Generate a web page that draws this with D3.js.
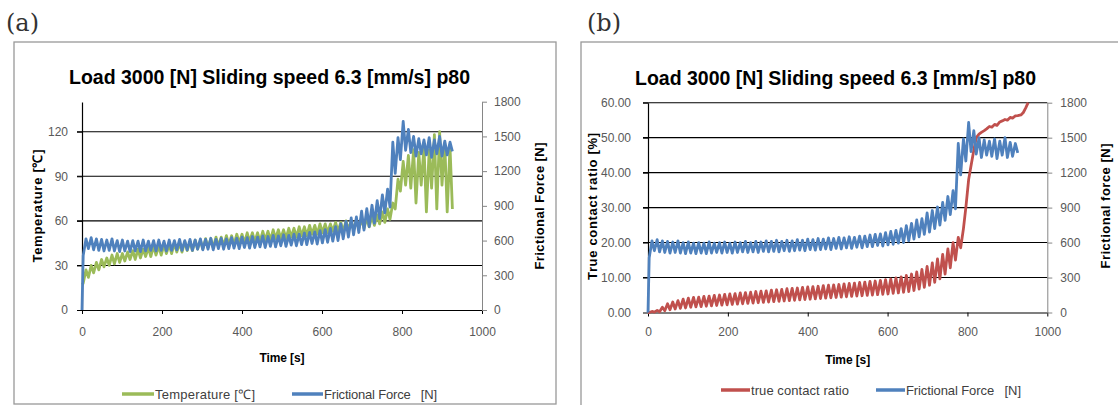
<!DOCTYPE html>
<html>
<head>
<meta charset="utf-8">
<script src="https://cdn.jsdelivr.net/npm/d3@7"></script>
<style>
  body { margin: 0; background: #fff; }
  svg { display: block; }
  .tick text { font-family: "Liberation Sans", Arial, sans-serif; font-size: 12px; fill: #595959; }
  .title { font-family: "Liberation Sans", Arial, sans-serif; font-size: 19.5px; font-weight: bold; fill: #000; }
  .axis-title { font-family: "Liberation Sans", Arial, sans-serif; font-weight: bold; fill: #000; }
  .legend-text { font-family: "Liberation Sans", Arial, sans-serif; font-size: 13px; fill: #404040; white-space: pre; }
  .tag { font-family: "DejaVu Serif", "Liberation Serif", serif; font-size: 24px; fill: #333; }
</style>
</head>
<body>
<div id="chart"></div>
<script>
// time [s], sampled at the turning points of each stroke
const time = [0,
  3, 10, 16, 23, 29, 36, 42, 49, 55, 62, 68, 75, 81, 88, 94, 101, 107, 114, 120, 127,
  133, 140, 146, 153, 159, 166, 172, 179, 185, 192, 198, 205, 211, 218, 224, 231, 237, 244, 250, 257,
  263, 270, 276, 283, 289, 296, 302, 309, 315, 322, 328, 335, 341, 348, 354, 361, 367, 374, 380, 387,
  393, 400, 406, 413, 419, 426, 432, 439, 445, 452, 458, 465, 471, 478, 484, 491, 497, 504, 510, 517,
  523, 530, 536, 543, 549, 556, 562, 569, 575, 582, 588, 595, 601, 608, 614, 621, 627, 634, 640, 647,
  653, 660, 666, 673, 679, 686, 692, 699, 705, 712, 718, 725, 731, 738, 744, 751, 757, 764, 770, 777,
  783, 790, 796, 803, 809, 816, 822, 829, 835, 842, 848, 855, 861, 868, 874, 881, 887, 894, 900, 907,
  913, 920, 926];

// temperature [°C]
const temperature = [17,
  18, 27, 22, 30, 25, 32, 27, 34, 29, 35, 30, 37, 31, 38, 32, 38, 33, 39, 34, 40,
  34, 41, 35, 41, 36, 42, 36, 43, 37, 43, 37, 44, 38, 44, 38, 45, 39, 45, 39, 46,
  40, 46, 40, 47, 41, 47, 41, 48, 42, 48, 42, 49, 43, 49, 43, 50, 44, 50, 44, 51,
  45, 51, 45, 52, 46, 52, 46, 52, 46, 53, 47, 53, 47, 54, 48, 54, 48, 54, 48, 55,
  49, 55, 49, 56, 50, 56, 50, 57, 51, 57, 51, 58, 52, 58, 52, 58, 53, 59, 53, 59,
  53, 60, 54, 60, 54, 60, 55, 61, 55, 62, 56, 63, 57, 64, 58, 66, 59, 68, 61, 72,
  68, 88, 80, 100, 84, 104, 82, 108, 72, 106, 84, 110, 66, 108, 82, 118, 68, 120, 84, 112,
  66, 110, 68];

// frictional force [N]
const force = [0,
  470, 615, 530, 625, 520, 615, 515, 610, 510, 605, 515, 615, 510, 600, 505, 605, 510, 595, 505, 600,
  510, 595, 505, 605, 510, 595, 515, 600, 510, 605, 515, 595, 510, 605, 515, 600, 520, 610, 515, 600,
  520, 610, 515, 605, 525, 615, 520, 610, 525, 620, 520, 610, 530, 620, 525, 615, 530, 625, 535, 620,
  530, 630, 540, 625, 535, 635, 540, 630, 545, 640, 540, 635, 550, 645, 545, 640, 555, 650, 550, 645,
  560, 655, 555, 655, 565, 665, 565, 670, 575, 675, 570, 685, 580, 695, 585, 705, 595, 720, 600, 745,
  615, 765, 630, 795, 650, 805, 670, 855, 690, 875, 720, 905, 750, 945, 790, 995, 840, 1045, 890, 1450,
  1180, 1490, 1300, 1630, 1380, 1560, 1360, 1500, 1330, 1480, 1350, 1470, 1340, 1490, 1320, 1470, 1350, 1500, 1330, 1460,
  1340, 1450, 1370];

// true contact ratio [%]
const ratio = [0,
  0, 0.3, 0.1, 0.6, 0.2, 1.5, 0.5, 2.5, 0.8, 3.0, 1.0, 3.4, 1.2, 3.8, 1.3, 4.1, 1.5, 4.3, 1.6, 4.4,
  1.7, 4.6, 1.8, 4.7, 1.9, 4.9, 2.0, 5.0, 2.1, 5.2, 2.2, 5.3, 2.3, 5.4, 2.4, 5.6, 2.5, 5.7, 2.6, 5.8,
  2.7, 6.0, 2.8, 6.1, 2.9, 6.2, 3.0, 6.4, 3.1, 6.5, 3.2, 6.6, 3.3, 6.8, 3.4, 6.9, 3.5, 7.0, 3.6, 7.2,
  3.7, 7.3, 3.8, 7.4, 3.9, 7.5, 4.0, 7.7, 4.1, 7.8, 4.2, 7.9, 4.3, 8.0, 4.4, 8.2, 4.5, 8.3, 4.6, 8.4,
  4.7, 8.6, 4.8, 8.7, 4.9, 8.9, 5.0, 9.0, 5.1, 9.2, 5.2, 9.4, 5.3, 9.6, 5.5, 9.9, 5.6, 10.2, 5.8, 10.6,
  6.0, 11.0, 6.3, 11.6, 6.7, 12.3, 7.2, 13.2, 7.8, 14.2, 8.6, 15.3, 9.6, 16.6, 11.0, 18.2, 12.8, 20.0, 15.0, 21.5,
  18.5, 24.0, 30.0, 38.0, 42.0, 46.5, 50.0, 51.0, 51.5, 52.0, 52.5, 53.2, 53.0, 53.8, 53.5, 54.5, 54.8, 55.2, 55.0, 55.8,
  55.6, 56.2, 56.3];
// the contact ratio keeps going a little after the force record stops
const ratioTailTime = [934, 940, 946, 952];
const ratioTail = [56.5, 57.2, 58.5, 60];

const timeTicks = [0, 200, 400, 600, 800, 1000];
const tempTicks = [0, 30, 60, 90, 120];
const ratioTicks = [0, 10, 20, 30, 40, 50, 60];
const forceTicks = [0, 300, 600, 900, 1200, 1500, 1800];

const titleText = "Load 3000 [N] Sliding speed 6.3 [mm/s] p80";

const width = 1118,
  height = 405;

const svg = d3
  .select("#chart")
  .append("svg")
  .attr("width", width)
  .attr("height", height);

function drawPanel(p) {
  const g = svg.append("g");

  g.append("rect")
    .attr("x", p.box[0])
    .attr("y", p.box[1])
    .attr("width", p.box[2])
    .attr("height", p.box[3])
    .attr("fill", "#fff")
    .attr("stroke", "#999")
    .attr("stroke-width", 1.3);

  g.append("text").attr("class", "tag").attr("x", p.tagX).attr("y", 31).text(p.tag);

  g.append("text")
    .attr("class", "title")
    .attr("x", p.titleX)
    .attr("y", p.titleY)
    .attr("textLength", 401)
    .text(titleText);

  const x = d3.scaleLinear().domain([0, 1000]).range(p.xRange);
  const yL = d3.scaleLinear().domain([0, p.leftMax]).range([p.yBase, p.yTop]);
  const yR = d3.scaleLinear().domain([0, 1800]).range([p.yBase, p.rightTop]);

  // gridlines
  g.append("g")
    .selectAll("line")
    .data(p.leftTicks.filter((v) => v > 0))
    .join("line")
    .attr("x1", p.xRange[0] - 5)
    .attr("x2", p.xRange[1])
    .attr("y1", (d) => yL(d))
    .attr("y2", (d) => yL(d))
    .attr("stroke", "#000")
    .attr("stroke-width", 1.1);

  const xAxis = g
    .append("g")
    .attr("transform", `translate(0,${p.yBase})`)
    .attr("color", "#000")
    .call(
      d3.axisBottom(x).tickValues(timeTicks).tickFormat(d3.format("d"))
        .tickSize(4).tickSizeOuter(0).tickPadding(p.xPad)
    );
  xAxis.select(".domain").attr("stroke-width", 1.2);

  const leftAxis = g
    .append("g")
    .attr("transform", `translate(${p.xRange[0]},0)`)
    .attr("color", "#000")
    .call(
      d3.axisLeft(yL).tickValues(p.leftTicks).tickFormat(p.leftFmt)
        .tickSize(5).tickSizeOuter(0).tickPadding(p.lPad)
    );
  leftAxis.select(".domain").attr("stroke-width", 1.2);

  g.append("g")
    .attr("transform", `translate(${p.xRange[1]},0)`)
    .attr("color", "#868686")
    .call(
      d3.axisRight(yR).tickValues(forceTicks).tickFormat(d3.format("d"))
        .tickSize(5).tickSizeOuter(0).tickPadding(p.rPad)
    );

  // axis titles
  g.append("text")
    .attr("class", "axis-title")
    .attr("x", (p.xRange[0] + p.xRange[1]) / 2)
    .attr("y", p.xTitleY)
    .attr("text-anchor", "middle")
    .attr("font-size", 12)
    .attr("textLength", 45)
    .text("Time [s]");

  [p.leftTitle, p.rightTitle].forEach((t) => {
    g.append("text")
      .attr("class", "axis-title")
      .attr("transform", `translate(${t.x},${t.y}) rotate(-90)`)
      .attr("text-anchor", "middle")
      .attr("font-size", 13)
      .attr("textLength", t.len)
      .text(t.text);
  });

  // series
  const clipId = "clip-" + p.tag.replace(/\W/g, "");
  g.append("clipPath")
    .attr("id", clipId)
    .append("rect")
    .attr("x", p.xRange[0] - 2)
    .attr("y", p.yTop - 1)
    .attr("width", p.xRange[1] - p.xRange[0] + 4)
    .attr("height", p.yBase - p.yTop + 3);

  const series = g.append("g").attr("clip-path", `url(#${clipId})`);

  const linePrimary = d3.line().x((d) => x(d[0])).y((d) => yL(d[1]));
  const lineSecondary = d3.line().x((d) => x(d[0])).y((d) => yR(d[1]));

  series
    .append("path")
    .datum(p.primary.points)
    .attr("d", linePrimary)
    .attr("fill", "none")
    .attr("stroke", p.primary.color)
    .attr("stroke-width", 2.8)
    .attr("stroke-linejoin", "round");

  series
    .append("path")
    .datum(p.secondary.points)
    .attr("d", lineSecondary)
    .attr("fill", "none")
    .attr("stroke", p.secondary.color)
    .attr("stroke-width", 2.8)
    .attr("stroke-linejoin", "round");

  // legend
  const legend = g.append("g");
  p.legend.forEach((item) => {
    legend
      .append("line")
      .attr("x1", item.x1)
      .attr("x2", item.x2)
      .attr("y1", p.legendY)
      .attr("y2", p.legendY)
      .attr("stroke", item.color)
      .attr("stroke-width", 3.5);
    legend
      .append("text")
      .attr("class", "legend-text")
      .attr("x", item.x2 + 1)
      .attr("y", p.legendY + 5)
      .attr("textLength", item.len)
      .text(item.text);
  });
}

const green = "#9BBB59",
  blue = "#4F81BD",
  red = "#C0504D";

drawPanel({
  box: [14, 42, 542, 362],
  tag: "(a)",
  tagX: 6,
  titleX: 69,
  titleY: 83.5,
  xRange: [82, 482],
  yBase: 310,
  yTop: 102,
  leftMax: 140,
  rightTop: 101.7,
  leftTicks: tempTicks,
  leftFmt: d3.format("d"),
  lPad: 9,
  rPad: 7,
  xPad: 13,
  xTitleY: 361.5,
  leftTitle: { text: "Temperature [℃]", x: 42, y: 206, len: 113 },
  rightTitle: { text: "Frictional Force [N]", x: 543.5, y: 206, len: 127 },
  primary: { points: d3.zip(time, temperature), color: green },
  secondary: { points: d3.zip(time, force), color: blue },
  legendY: 394,
  legend: [
    { text: "Temperature [℃]", color: green, x1: 122, x2: 154, len: 100 },
    { text: "Frictional Force   [N]", color: blue, x1: 292, x2: 323, len: 113 },
  ],
});

drawPanel({
  box: [581, 42, 560, 380],
  tag: "(b)",
  tagX: 587,
  titleX: 635,
  titleY: 84.5,
  xRange: [648, 1047.3],
  yBase: 312.5,
  yTop: 102.7,
  leftMax: 60,
  rightTop: 102.7,
  leftTicks: ratioTicks,
  leftFmt: d3.format(".2f"),
  lPad: 12,
  rPad: 8,
  xPad: 11,
  xTitleY: 363.5,
  leftTitle: { text: "True contact ratio [%]", x: 596.5, y: 206.5, len: 147 },
  rightTitle: { text: "Frictional force [N]", x: 1109.5, y: 206, len: 125 },
  primary: {
    points: d3.zip(time, ratio).concat(d3.zip(ratioTailTime, ratioTail)),
    color: red,
  },
  secondary: { points: d3.zip(time, force), color: blue },
  legendY: 390,
  legend: [
    { text: "true contact ratio", color: red, x1: 721, x2: 750, len: 98 },
    { text: "Frictional Force   [N]", color: blue, x1: 876, x2: 905, len: 115 },
  ],
});
</script>
</body>
</html>
